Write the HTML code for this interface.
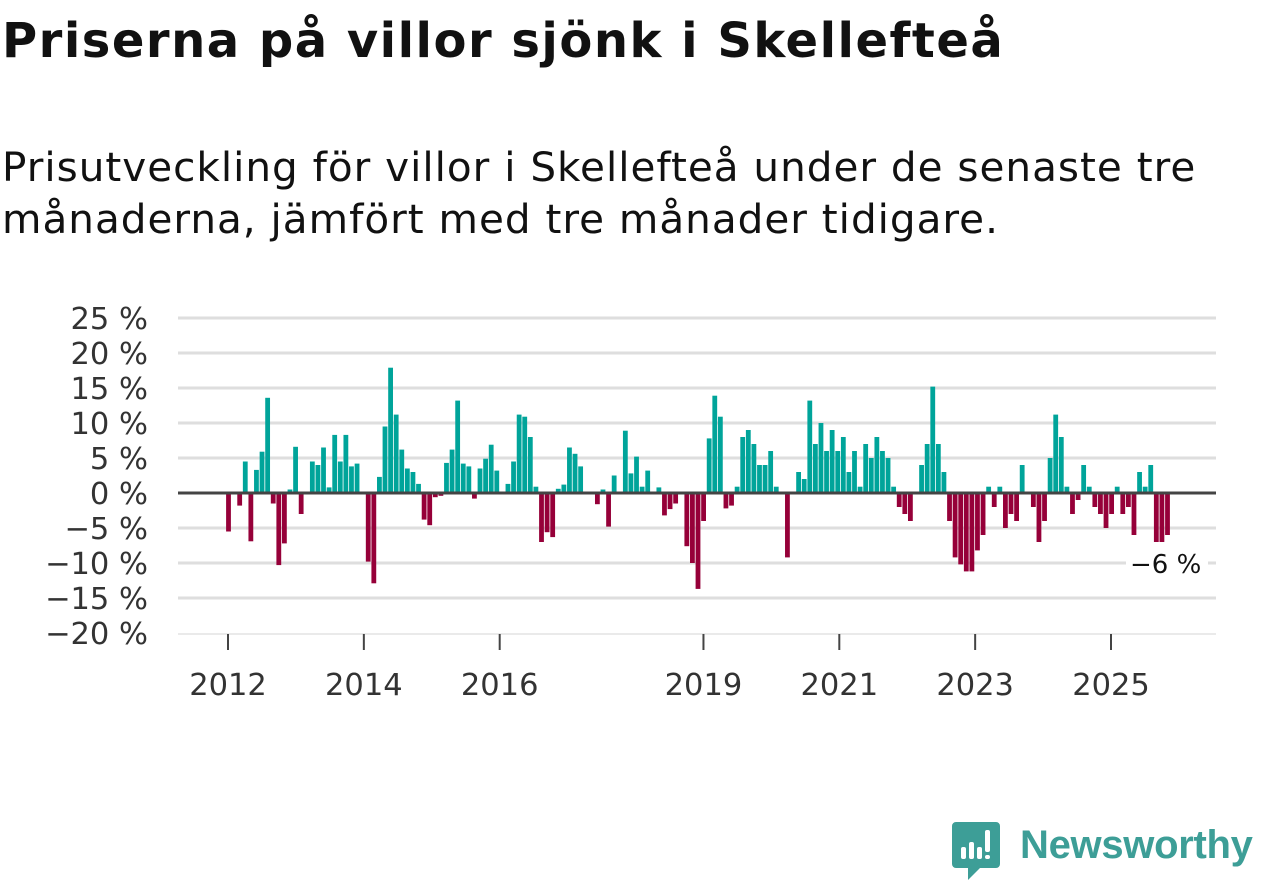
<!DOCTYPE html>
<html><head><meta charset="utf-8"><style>
body{margin:0;width:1262px;height:879px;background:#fff;overflow:hidden;font-family:"DejaVu Sans","Liberation Sans",sans-serif;}
#title{position:absolute;left:2px;top:13px;font-size:48px;font-weight:bold;color:#111;margin:0;white-space:nowrap;letter-spacing:1.5px}
#sub{position:absolute;left:2px;top:141px;font-size:40.5px;color:#111;line-height:52px;width:1240px;letter-spacing:1px}
svg{position:absolute;left:0;top:0}
</style></head><body>
<h1 id="title">Priserna på villor sjönk i Skellefteå</h1>
<div id="sub">Prisutveckling för villor i Skellefteå under de senaste tre månaderna, jämfört med tre månader tidigare.</div>
<svg id="chart" width="1262" height="879" style="font-family:'DejaVu Sans',sans-serif"></svg>
<script>
const yTicks=[25,20,15,10,5,0,-5,-10,-15,-20];
const yTickLabels=["25 %","20 %","15 %","10 %","5 %","0 %","−5 %","−10 %","−15 %","−20 %"];
const years=[2012,2014,2016,2019,2021,2023,2025];
const values=[-5.5,null,-1.8,4.5,-6.9,3.3,5.9,13.6,-1.5,-10.3,-7.2,0.5,6.6,-3.0,null,4.5,4.0,6.5,0.8,8.3,4.5,8.3,3.8,4.2,null,-9.8,-12.9,2.3,9.5,17.9,11.2,6.2,3.5,3.0,1.3,-3.8,-4.6,-0.6,-0.4,4.3,6.2,13.2,4.2,3.8,-0.8,3.5,4.9,6.9,3.2,null,1.3,4.5,11.2,10.9,8.0,0.9,-7.0,-5.6,-6.3,0.6,1.2,6.5,5.6,3.8,null,null,-1.6,0.5,-4.8,2.5,null,8.9,2.8,5.2,0.9,3.2,null,0.8,-3.2,-2.3,-1.5,null,-7.6,-10.0,-13.7,-4.0,7.8,13.9,10.9,-2.2,-1.8,0.9,8.0,9.0,7.0,4.0,4.0,6.0,0.9,null,-9.2,null,3.0,2.0,13.2,7.0,10.0,6.0,9.0,6.0,8.0,3.0,6.0,0.9,7.0,5.0,8.0,6.0,5.0,0.9,-2.0,-3.0,-4.0,null,4.0,7.0,15.2,7.0,3.0,-4.0,-9.2,-10.2,-11.2,-11.2,-8.2,-6.0,0.9,-2.0,0.9,-5.0,-3.0,-4.0,4.0,null,-2.0,-7.0,-4.0,5.0,11.2,8.0,0.9,-3.0,-1.0,4.0,0.9,-2.0,-3.0,-5.0,-3.0,0.9,-3.0,-2.0,-6.0,3.0,0.9,4.0,-7.0,-7.0,-6.0];
const lastLabel="−6 %";
const NS="http://www.w3.org/2000/svg";
const svg=document.getElementById('chart');
const y=v=>493-v*7;
const xBar=i=>228.5+i*(1167.5-228.5)/(values.length-1);
const xYear=yr=>228+(yr-2012)*(1111-228)/13;
function mk(t,a){const e=document.createElementNS(NS,t);for(const k in a)e.setAttribute(k,a[k]);svg.appendChild(e);return e;}
yTicks.forEach((v,i)=>{
 if(v!==0&&v!==-20){const g=mk('line',{x1:178,x2:1216,y1:y(v),y2:y(v),stroke:'#dedede','stroke-width':3});
 
 }
 const t=mk('text',{x:148,y:y(v)+11,'text-anchor':'end','font-size':30.5,fill:'#333'});
 t.textContent=yTickLabels[i];
 
 
});
const base=mk('line',{x1:178,x2:1216,y1:634,y2:634,stroke:'#e4e4e4','stroke-width':1.5});


years.forEach(yr=>{
 const tk=mk('line',{x1:xYear(yr),x2:xYear(yr),y1:634,y2:650,stroke:'#444','stroke-width':2});
 
 
 const t=mk('text',{x:xYear(yr),y:695,'text-anchor':'middle','font-size':30.5,fill:'#333'});
 t.textContent=yr;
 
 
});
values.forEach((v,i)=>{
 if(v===null)return;
 const r=mk('rect',{x:xBar(i)-2.4,width:4.8,y:v>=0?y(v):y(0),height:Math.abs(v)*7,fill:v>=0?'#00a49a':'#960039'});
 
 
});
const z=mk('line',{x1:178,x2:1216,y1:y(0),y2:y(0),stroke:'#444','stroke-width':3});


const lb=mk('rect',{x:1126,y:545,width:82,height:34,fill:'#fff'});


const lt=mk('text',{x:1130,y:573,'font-size':26,fill:'#111'});
lt.textContent=lastLabel;


</script>
<div style="position:absolute;left:952px;top:820px;width:310px;height:60px">
 <svg width="52" height="60" style="position:absolute;left:0;top:0">
  <path d="M4 2h40a4 4 0 0 1 4 4v38a4 4 0 0 1-4 4H28l-12 12v-12H4a4 4 0 0 1-4-4V6a4 4 0 0 1 4-4z" fill="#3d9e97"/>
  <rect x="9" y="27" width="5" height="12" rx="2" fill="#fff"/><rect x="17" y="22" width="5" height="17" rx="2" fill="#fff"/><rect x="25" y="27" width="5" height="12" rx="2" fill="#fff"/><rect x="33" y="10" width="5" height="22" rx="2" fill="#fff"/><rect x="33" y="35" width="5" height="4" rx="2" fill="#fff"/>
 </svg>
 <div style="position:absolute;left:68px;top:2px;font-family:'Liberation Sans',sans-serif;font-size:40px;font-weight:bold;color:#3d9e97;line-height:46px;letter-spacing:-0.3px">Newsworthy</div>
</div>
</body></html>
